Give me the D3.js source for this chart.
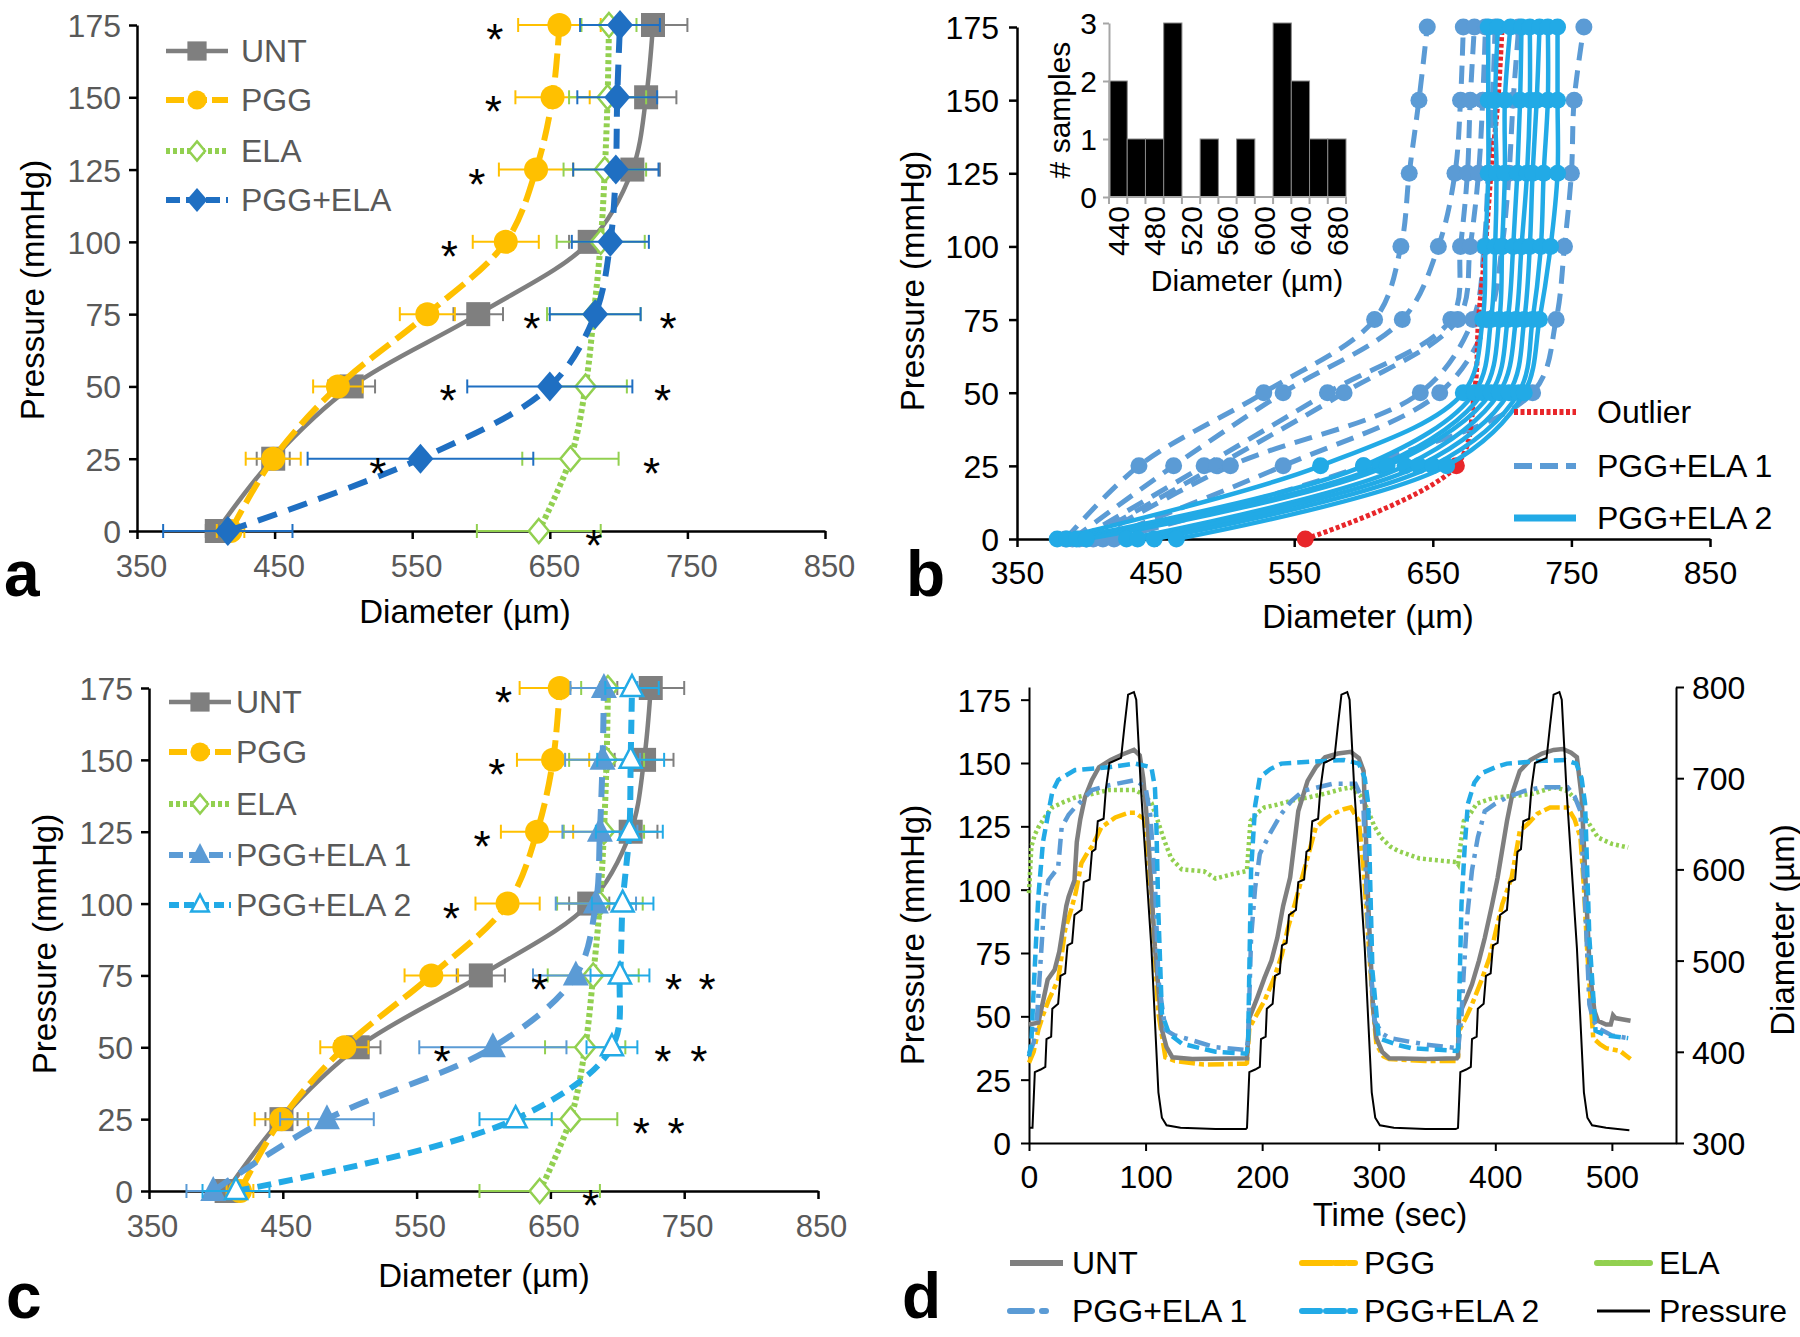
<!DOCTYPE html>
<html><head><meta charset="utf-8">
<script src="https://cdn.jsdelivr.net/npm/d3@7"></script>
<style>body{margin:0;background:#fff} svg{display:block}</style>
</head><body><svg id="c" width="1800" height="1337"></svg>
<script>
// ---------------- DATA ----------------
const pressures = [0,25,50,75,100,125,150,175];
// panel a / c (diameter in µm, mean and error)
const untMean = [408,449,506,598,679,710,720,725];
const untErr  = [8,12,17,18,15,20,22,25];
const pggMean = [418,449,496,561,618,640,652,657];
const pggErr  = [10,20,18,20,24,27,27,30];
const elaMean = [642,665,676,682,687,690,692,693];
const elaErr  = [45,35,30,34,32,30,28,20];
const pgeMean = [416,556,650,683,694,698,699,701];
const pgeErr  = [47,82,60,33,28,31,29,29];
const pge1Mean = [398,483,607,669,684,687,689,690];
const pge1Err  = [20,35,55,32,30,28,28,25];
const pge2Mean = [415,624,696,702,704,709,710,711];
const pge2Err  = [25,27,19,22,23,25,25,20];
const starsA = [[175,610],[150,609],[125,597],[100,577],[75,637],[75,736],[50,576],[50,732],[25,525],[25,724],[0,682]];
const starsC = [[175,615],[150,610],[125,599],[100,576],[75,642],[75,742],[75,767],[50,569],[50,734],[50,761],[25,718],[25,744],[0,680]];
const xTicksProfile = [350,450,550,650,750,850];
const yTicksPressure = [0,25,50,75,100,125,150,175];

// panel b individual samples (diameter at each pressure)
const pge1Samples = [
  [385,438,528,608,627,633,640,646],
  [390,463,542,628,654,666,670,672],
  [395,485,574,663,670,675,677,680],
  [400,494,586,668,677,683,686,688],
  [405,504,641,679,687,690,693,695],
  [412,542,655,690,700,705,708,712],
  [420,600,722,739,745,750,752,759]
];
const pge2Samples = [
  [379,569,672,686,688,690,690,690],
  [386,600,680,692,695,696,695,697],
  [393,612,686,698,700,702,702,706],
  [400,617,692,704,708,711,713,714],
  [429,630,698,710,714,718,720,720],
  [437,640,705,716,720,722,725,727],
  [449,650,712,722,728,730,733,733],
  [465,660,716,727,735,740,740,740]
];
const outlierSample = [558,667,680,683,688,692,697,700];
// inset histogram
const histBins = ["440","460","480","500","520","540","560","580","600","620","640","660","680"];
const histCounts = [2,1,1,3,0,1,0,1,0,3,2,1,1];
const histLabels = ["440","480","520","560","600","640","680"];

// panel d time series [time s, value]
const pressureTrace = [[0,6],[3,6],[5,28],[10,29],[14,30],[15,41],[19,42],[20,53],[25,55],[27,66],[31,67],[33,78],[37,79],[39,90],[45,92],[47,103],[52,104],[54,115],[57,116],[59,127],[64,128],[66,140],[69,150],[79,152],[82,165],[85,177],[90,178],[92,175],[96,140],[105,77],[111,20],[114,10],[118,7],[130,6],[160,5.5],[186,5.5],
 [187,6],[189,28],[194,29],[198,30],[199,41],[203,42],[204,53],[209,55],[211,66],[215,67],[217,78],[221,79],[223,90],[229,92],[231,103],[236,104],[238,115],[241,116],[243,127],[248,128],[250,140],[253,150],[262,152],[265,165],[268,177],[273,178],[275,175],[279,140],[288,77],[294,20],[297,10],[301,7],[313,6],[340,5.5],[366,5.5],
 [368,6],[370,28],[375,29],[379,30],[380,41],[384,42],[385,53],[390,55],[392,66],[396,67],[398,78],[402,79],[404,90],[410,92],[412,103],[417,104],[419,115],[422,116],[424,127],[429,128],[431,140],[434,150],[444,152],[447,165],[450,177],[455,178],[457,175],[461,140],[470,77],[476,20],[479,10],[483,7],[495,6],[505,5.5],[515,5]];
const untTrace = [[0,430],[8,432],[12,455],[16,479],[22,490],[26,510],[28,526],[32,560],[34,570],[39,588],[41,630],[44,655],[48,679],[54,698],[60,712],[70,720],[80,726],[90,731],[95,725],[98,700],[102,643],[108,515],[114,424],[118,405],[123,394],[140,392],[186,393],
 [187,393],[189,437],[196,460],[202,481],[208,500],[213,525],[218,560],[224,591],[231,664],[239,697],[246,712],[254,723],[265,727],[276,729],[283,722],[287,708],[291,562],[295,450],[298,415],[303,400],[309,393],[340,392],[367,393],
 [368,395],[369,441],[375,458],[380,474],[386,500],[391,525],[397,560],[402,591],[410,653],[415,685],[421,708],[430,720],[440,727],[450,731],[458,732],[465,728],[470,723],[474,680],[477,599],[481,489],[485,445],[488,434],[495,430],[499,430],[501,440],[503,437],[516,434]];
const pggTrace = [[0,388],[4,400],[8,424],[12,440],[17,457],[25,479],[28,505],[31,534],[36,555],[40,574],[45,607],[50,618],[54,625],[62,646],[74,657],[85,662],[91,662],[99,655],[105,570],[111,442],[117,394],[125,390],[150,386],[186,387],
 [187,388],[189,426],[195,440],[202,456],[210,480],[217,507],[222,535],[228,562],[234,590],[239,613],[246,646],[254,655],[261,661],[270,666],[276,668],[283,653],[287,600],[291,525],[295,450],[298,408],[304,395],[309,392],[340,390],[367,390],
 [368,392],[369,423],[375,438],[380,452],[388,478],[395,503],[400,530],[406,562],[414,591],[421,642],[428,650],[436,661],[447,668],[462,668],[468,655],[473,635],[476,580],[479,507],[484,415],[490,408],[495,404],[507,401],[512,396],[516,392]];
const elaTrace = [[0,574],[2,625],[5,638],[8,646],[14,658],[20,668],[30,674],[40,679],[55,683],[68,687],[91,687],[98,682],[105,673],[110,655],[116,632],[122,612],[131,600],[150,598],[160,590],[175,595],[186,598],
 [187,600],[190,653],[196,662],[202,668],[213,671],[224,675],[240,679],[254,683],[268,688],[276,690],[285,680],[291,664],[296,648],[302,635],[310,625],[317,620],[335,612],[350,610],[367,608],
 [368,606],[373,653],[379,662],[384,672],[395,677],[402,679],[420,681],[432,683],[445,688],[451,690],[462,686],[470,675],[477,657],[483,645],[488,635],[500,628],[514,624]];
const pge1Trace = [[0,398],[4,410],[7,440],[9.5,490],[13,560],[16.6,588],[25,602],[28,646],[34,660],[39.5,668],[54,687],[68,692],[91,698],[100,690],[104,660],[108,588],[111,479],[117,424],[125,418],[131,416],[160,405],[186,402],
 [187,405],[188,415],[190.5,525],[194,580],[198,617],[207,640],[216.5,661],[225,675],[235,686],[261,694],[280,694],[285,680],[287,664],[291,525],[296.5,434],[303,420],[309.5,415],[340,408],[367,404],
 [368,401],[371,440],[373,489],[376,550],[380,599],[385,635],[391,664],[400,672],[410,679],[425,686],[440,690],[462,690],[468,680],[473,664],[477,562],[480.7,452],[484,435],[488,426],[500,418],[514,415]];
const pge2Trace = [[0,395],[2,410],[3.7,460],[6,520],[8,570],[12,630],[16.6,662],[20,685],[25,698],[39.5,709],[68,712],[91,716],[105,712],[108,690],[109,662],[111,552],[114,442],[120,420],[131,409],[160,400],[186,398],
 [187,400],[188,415],[190.5,599],[194,670],[198,701],[207,710],[216.5,716],[254,719],[270,720],[283,716],[288,700],[291,672],[294.6,489],[300,415],[315,408],[328,404],[367,401],
 [368,404],[371,562],[374,630],[376.5,672],[382,695],[387.6,705],[400,712],[410,716],[440,719],[460,720],[469.5,716],[474,700],[477,672],[480.7,525],[486,423],[495,418],[514,415]];
const timeTicks = [0,100,200,300,400,500];
const diamTicks = [300,400,500,600,700,800];

// ---------------- HELPERS ----------------
const FONT = '"Liberation Sans", Arial, Helvetica, sans-serif';
const svg = d3.select('#c');
svg.append('rect').attr('width',1800).attr('height',1337).attr('fill','#fff');

const C = {unt:'#7f7f7f', pgg:'#ffc000', ela:'#92d050', pge:'#1f6fc2', pge1:'#5b9bd5', pge2:'#22aae6', red:'#e8262a'};

function marker(g, type, cx, cy, color, s=1) {
  if (type==='square') g.append('rect').attr('x',cx-12*s).attr('y',cy-12*s).attr('width',24*s).attr('height',24*s).attr('fill',color);
  else if (type==='circle') g.append('circle').attr('cx',cx).attr('cy',cy).attr('r',12*s).attr('fill',color);
  else if (type==='dot') g.append('circle').attr('cx',cx).attr('cy',cy).attr('r',8.5*s).attr('fill',color);
  else if (type==='diamond') g.append('path').attr('d',`M${cx},${cy-15*s}L${cx+13*s},${cy}L${cx},${cy+15*s}L${cx-13*s},${cy}Z`).attr('fill',color);
  else if (type==='odiamond') g.append('path').attr('d',`M${cx},${cy-12*s}L${cx+10*s},${cy}L${cx},${cy+12*s}L${cx-10*s},${cy}Z`).attr('fill','#fff').attr('stroke',color).attr('stroke-width',2.5);
  else if (type==='triangle') g.append('path').attr('d',`M${cx},${cy-15*s}L${cx+13*s},${cy+10*s}L${cx-13*s},${cy+10*s}Z`).attr('fill',color);
  else if (type==='otriangle') g.append('path').attr('d',`M${cx},${cy-13*s}L${cx+11*s},${cy+8*s}L${cx-11*s},${cy+8*s}Z`).attr('fill','#fff').attr('stroke',color).attr('stroke-width',2.5);
}

function styleAxis(sel, color, fs, sw=2.5) {
  sel.select('.domain').attr('stroke','#000').attr('stroke-width',sw);
  sel.selectAll('.tick line').attr('stroke','#000').attr('stroke-width',sw);
  sel.selectAll('.tick text').attr('fill',color).style('font-size',fs+'px').style('font-family',FONT);
}
function txt(g, x, y, s, o={}) {
  const t = g.append('text').attr('x',x).attr('y',y).text(s)
    .style('font-family',FONT).style('font-size',(o.fs||32)+'px')
    .attr('fill',o.fill||'#000').attr('text-anchor',o.anchor||'start');
  if (o.rot) t.attr('transform',`rotate(${o.rot},${x},${y})`);
  if (o.bold) t.style('font-weight','bold');
  return t;
}

// ---------------- PROFILE PANELS (a, c) ----------------
function profilePanel(cfg) {
  const g = svg.append('g');
  const x = d3.scaleLinear([350,850],cfg.xr);
  const y = d3.scaleLinear([0,175],cfg.yr);
  const xa = g.append('g').attr('transform',`translate(0,${y(0)})`)
    .call(d3.axisBottom(x).tickValues(xTicksProfile).tickSize(8).tickSizeOuter(0).tickPadding(12));
  styleAxis(xa,'#595959',31);
  xa.selectAll('.tick text').attr('dx',cfg.ldx).attr('dy','0.85em');
  const ya = g.append('g').attr('transform',`translate(${x(350)},0)`)
    .call(d3.axisLeft(y).tickValues(yTicksPressure).tickSize(8).tickSizeOuter(0).tickPadding(8));
  styleAxis(ya,'#595959',32);
  ya.selectAll('.tick text').attr('dy','0.36em');

  const line = d3.line().x(d=>x(d[0])).y(d=>y(d[1])).curve(d3.curveCatmullRom.alpha(0.5));
  cfg.series.forEach(s => {
    const pts = s.mean.map((m,i)=>[m,pressures[i]]);
    const eg = g.append('g');
    s.mean.forEach((m,i)=>{
      const yy = y(pressures[i]), x1 = x(m-s.err[i]), x2 = x(m+s.err[i]);
      eg.append('line').attr('x1',x1).attr('x2',x2).attr('y1',yy).attr('y2',yy).attr('stroke',s.color).attr('stroke-width',2);
      [x1,x2].forEach(xx=>eg.append('line').attr('x1',xx).attr('x2',xx).attr('y1',yy-7).attr('y2',yy+7).attr('stroke',s.color).attr('stroke-width',2));
    });
    g.append('path').attr('d',line(pts)).attr('fill','none').attr('stroke',s.color)
      .attr('stroke-width',s.w).attr('stroke-dasharray',s.dash||null).attr('stroke-linecap',s.cap||'butt');
    const mg = g.append('g');
    pts.forEach(p=>marker(mg,s.marker,x(p[0]),y(p[1]),s.color));
  });
  cfg.stars.forEach(st=>txt(g,x(st[1]),y(st[0])+30,'*',{fs:44,anchor:'middle'}));
  // legend
  cfg.series.forEach((s,i)=>{
    const ly = cfg.leg.rows[i];
    g.append('line').attr('x1',cfg.leg.x0).attr('x2',cfg.leg.x1).attr('y1',ly).attr('y2',ly)
      .attr('stroke',s.color).attr('stroke-width',s.w).attr('stroke-dasharray',s.legDash||s.dash||null).attr('stroke-linecap',s.cap||'butt');
    marker(g,s.marker,(cfg.leg.x0+cfg.leg.x1)/2,ly,s.color,0.8);
    txt(g,cfg.leg.tx,ly+11,s.name,{fs:32,fill:'#595959'});
  });
  txt(g,cfg.xt[0],cfg.xt[1],'Diameter (µm)',{fs:33,anchor:'middle'});
  txt(g,cfg.yt[0],cfg.yt[1],'Pressure (mmHg)',{fs:33,anchor:'middle',rot:-90});
  txt(g,cfg.letter[0],cfg.letter[1],cfg.letter[2],{fs:64,bold:true});
}

const sUNT = {name:'UNT',mean:untMean,err:untErr,color:C.unt,w:4.5,marker:'square'};
const sPGG = {name:'PGG',mean:pggMean,err:pggErr,color:C.pgg,w:6,dash:'24 8',legDash:'18 5',marker:'circle'};
const sELA = {name:'ELA',mean:elaMean,err:elaErr,color:C.ela,w:6,dash:'4 3',marker:'odiamond'};

profilePanel({xr:[137,825], yr:[531,25], ldx:4,
  series:[sUNT,sPGG,sELA,{name:'PGG+ELA',mean:pgeMean,err:pgeErr,color:C.pge,w:6,dash:'20 12',legDash:'14 6',marker:'diamond'}],
  stars:starsA, leg:{x0:166,x1:228,tx:241,rows:[51,100,151,200]},
  xt:[465,623], yt:[44,290], letter:[4,596,'a']});

profilePanel({xr:[149,818], yr:[1191,688], ldx:3,
  series:[sUNT,sPGG,sELA,
    {name:'PGG+ELA 1',mean:pge1Mean,err:pge1Err,color:C.pge1,w:6,dash:'20 12',legDash:'14 6',marker:'triangle'},
    {name:'PGG+ELA 2',mean:pge2Mean,err:pge2Err,color:C.pge2,w:6,dash:'14 8',legDash:'10 5',marker:'otriangle'}],
  stars:starsC, leg:{x0:169,x1:231,tx:236,rows:[702,752,804,855,905]},
  xt:[484,1287], yt:[56,944], letter:[6,1318,'c']});

// ---------------- PANEL B ----------------
(function(){
  const g = svg.append('g');
  const x = d3.scaleLinear([350,850],[1017,1710]);
  const y = d3.scaleLinear([0,175],[539,27]);
  const xa = g.append('g').attr('transform',`translate(0,${y(0)})`)
    .call(d3.axisBottom(x).tickValues(xTicksProfile).tickSize(8).tickSizeOuter(0).tickPadding(10));
  styleAxis(xa,'#000',32);
  xa.selectAll('.tick text').attr('dy','0.85em');
  const ya = g.append('g').attr('transform',`translate(${x(350)},0)`)
    .call(d3.axisLeft(y).tickValues(yTicksPressure).tickSize(8).tickSizeOuter(0).tickPadding(10));
  styleAxis(ya,'#000',32);
  ya.selectAll('.tick text').attr('dy','0.36em');
  const line = d3.line().x(d=>x(d[0])).y(d=>y(d[1])).curve(d3.curveCatmullRom.alpha(0.5));
  const toPts = arr => arr.map((m,i)=>[m,pressures[i]]);
  pge1Samples.forEach(s=>{
    g.append('path').attr('d',line(toPts(s))).attr('fill','none').attr('stroke',C.pge1).attr('stroke-width',5).attr('stroke-dasharray','18 10');
    toPts(s).forEach(p=>marker(g,'dot',x(p[0]),y(p[1]),C.pge1));
  });
  // outlier
  g.append('path').attr('d',line(toPts(outlierSample))).attr('fill','none').attr('stroke',C.red).attr('stroke-width',5).attr('stroke-dasharray','4 2.5');
  toPts(outlierSample).slice(0,2).forEach(p=>marker(g,'dot',x(p[0]),y(p[1]),C.red));
  pge2Samples.forEach(s=>{
    g.append('path').attr('d',line(toPts(s))).attr('fill','none').attr('stroke',C.pge2).attr('stroke-width',4.5);
    toPts(s).forEach(p=>marker(g,'dot',x(p[0]),y(p[1]),C.pge2));
  });
  // legend
  const leg = [['Outlier',C.red,6,'4 2.5',412],['PGG+ELA 1',C.pge1,6,'18 8',466],['PGG+ELA 2',C.pge2,7,null,518]];
  leg.forEach(l=>{
    g.append('line').attr('x1',1514).attr('x2',1576).attr('y1',l[4]).attr('y2',l[4]).attr('stroke',l[1]).attr('stroke-width',l[2]).attr('stroke-dasharray',l[3]);
    txt(g,1597,l[4]+11,l[0],{fs:32});
  });
  txt(g,1368,628,'Diameter (µm)',{fs:33,anchor:'middle'});
  txt(g,924,281,'Pressure (mmHg)',{fs:33,anchor:'middle',rot:-90});
  txt(g,906,596,'b',{fs:64,bold:true});

  // inset histogram
  const hx = d3.scaleBand(histBins,[1109,1346]).paddingInner(0).paddingOuter(0);
  const hy = d3.scaleLinear([0,3],[197,23]);
  g.selectAll('.hb').data(histCounts).join('rect')
    .attr('x',(d,i)=>hx(histBins[i])).attr('width',hx.bandwidth())
    .attr('y',d=>hy(d)).attr('height',d=>hy(0)-hy(d))
    .attr('fill','#000').attr('stroke','#888').attr('stroke-width',1);
  const hya = g.append('g').attr('transform','translate(1109,0)')
    .call(d3.axisLeft(hy).tickValues([0,1,2,3]).tickFormat(d3.format('d')).tickSize(6).tickSizeOuter(0).tickPadding(6));
  hya.select('.domain').attr('stroke','#a6a6a6').attr('stroke-width',2);
  hya.selectAll('.tick line').attr('stroke','#a6a6a6').attr('stroke-width',2);
  hya.selectAll('.tick text').style('font-size','30px').style('font-family',FONT).attr('fill','#000').attr('dy','0.36em');
  g.append('line').attr('x1',1109).attr('x2',1346).attr('y1',197).attr('y2',197).attr('stroke','#a6a6a6').attr('stroke-width',2);
  histBins.forEach((b,i)=>{
    const xx = hx(b);
    g.append('line').attr('x1',xx).attr('x2',xx).attr('y1',197).attr('y2',204).attr('stroke','#a6a6a6').attr('stroke-width',2);
  });
  g.append('line').attr('x1',1346).attr('x2',1346).attr('y1',197).attr('y2',204).attr('stroke','#a6a6a6').attr('stroke-width',2);
  histLabels.forEach(l=>{
    const cx = hx(l)+hx.bandwidth()/2;
    txt(g,cx,206,l,{fs:30,anchor:'end',rot:-90}).attr('dy','0.36em');
  });
  txt(g,1247,291,'Diameter (µm)',{fs:30,anchor:'middle'});
  txt(g,1070,110,'# samples',{fs:30,anchor:'middle',rot:-90});
})();

// ---------------- PANEL D ----------------
(function(){
  const g = svg.append('g');
  const x = d3.scaleLinear([0,555],[1029,1676]);
  const yl = d3.scaleLinear([0,180],[1143,687]);
  const yr = d3.scaleLinear([300,800],[1143,687]);
  const xa = g.append('g').attr('transform',`translate(0,1143)`)
    .call(d3.axisBottom(x).tickValues(timeTicks).tickSize(8).tickSizeOuter(0).tickPadding(10));
  styleAxis(xa,'#000',32,2);
  xa.selectAll('.tick text').attr('dy','0.85em');
  const ya = g.append('g').attr('transform',`translate(1029,0)`)
    .call(d3.axisLeft(yl).tickValues(yTicksPressure).tickSize(8).tickSizeOuter(0).tickPadding(10));
  styleAxis(ya,'#000',32,2);
  ya.selectAll('.tick text').attr('dy','0.36em');
  const yra = g.append('g').attr('transform',`translate(1676,0)`)
    .call(d3.axisRight(yr).tickValues(diamTicks).tickSize(8).tickSizeOuter(0).tickPadding(8));
  styleAxis(yra,'#000',32,2);
  yra.selectAll('.tick text').attr('dy','0.36em');

  const lineR = d3.line().x(d=>x(d[0])).y(d=>yr(d[1]));
  const lineL = d3.line().x(d=>x(d[0])).y(d=>yl(d[1]));
  const ser = [
    {n:'ELA',d:elaTrace,c:C.ela,w:4.5,dash:'3 3'},
    {n:'PGG',d:pggTrace,c:C.pgg,w:4.5,dash:'16 4 5 4'},
    {n:'UNT',d:untTrace,c:C.unt,w:4.5,dash:null},
    {n:'PGG+ELA 1',d:pge1Trace,c:C.pge1,w:4.5,dash:'16 7 4 7'},
    {n:'PGG+ELA 2',d:pge2Trace,c:C.pge2,w:4.5,dash:'12 6'}
  ];
  ser.forEach(s=>g.append('path').attr('d',lineR(s.d)).attr('fill','none').attr('stroke',s.c).attr('stroke-width',s.w).attr('stroke-dasharray',s.dash));
  g.append('path').attr('d',lineL(pressureTrace)).attr('fill','none').attr('stroke','#000').attr('stroke-width',2);

  txt(g,1390,1226,'Time (sec)',{fs:33,anchor:'middle'});
  txt(g,924,935,'Pressure (mmHg)',{fs:33,anchor:'middle',rot:-90});
  txt(g,1794,930,'Diameter (µm)',{fs:33,anchor:'middle',rot:-90});
  txt(g,902,1318,'d',{fs:64,bold:true});
  const leg = [
    ['UNT',C.unt,6,null,1010,1072,1263],['PGG',C.pgg,6,'30 3 10 3',1302,1364,1263],['ELA',C.ela,6,'5 2',1597,1659,1263],
    ['PGG+ELA 1',C.pge1,6,'22 10 4 30',1010,1072,1311],['PGG+ELA 2',C.pge2,6,'18 6',1302,1364,1311],['Pressure','#000',3,null,1597,1659,1311]
  ];
  leg.forEach(l=>{
    g.append('line').attr('x1',l[4]).attr('x2',l[4]+53).attr('y1',l[6]).attr('y2',l[6]).attr('stroke',l[1]).attr('stroke-width',l[2]).attr('stroke-dasharray',l[3]).attr('stroke-linecap',l[3]?'round':'butt');
    txt(g,l[5],l[6]+11,l[0],{fs:32});
  });
})();
</script></body></html>
